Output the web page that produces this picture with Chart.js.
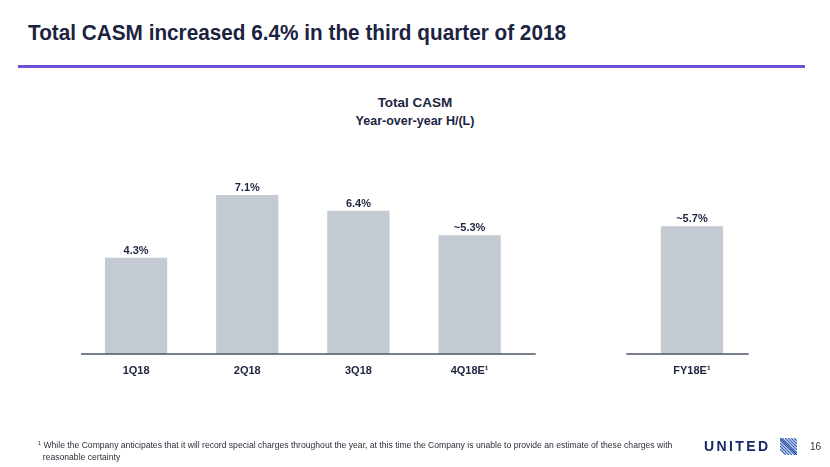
<!DOCTYPE html>
<html><head><meta charset="utf-8">
<script src="https://cdn.jsdelivr.net/npm/chart.js@4.4.1/dist/chart.umd.min.js"></script>
<style>
html,body{margin:0;padding:0;background:#fff;}
#wrap{position:relative;width:830px;height:467px;overflow:hidden;font-family:"Liberation Sans",Arial,sans-serif;color:#1d2541;}
#title{position:absolute;left:28px;top:21px;font-weight:bold;font-size:21.5px;white-space:nowrap;color:#1b2340;transform:scaleX(0.965);transform-origin:left top;}
#rule{position:absolute;left:18px;top:65px;width:787px;height:3px;background:#6d50d6;}
#ctitle{position:absolute;left:0;width:830px;text-align:center;top:95px;font-weight:bold;font-size:13.5px;line-height:16px;}
#csub{position:absolute;left:0;width:830px;text-align:center;top:113px;font-weight:bold;font-size:12.5px;line-height:16px;}
#c{position:absolute;left:0;top:0;}
#foot{position:absolute;left:38px;top:439px;font-size:9.5px;line-height:12px;color:#2b2f3a;white-space:nowrap;transform:scaleX(0.905);transform-origin:left top;}
#foot sup{font-size:6px;vertical-align:top;line-height:8px;}
#logo{position:absolute;left:704px;top:438px;font-weight:bold;font-size:14px;letter-spacing:2.4px;color:#16286b;line-height:16px;}
#globe{position:absolute;left:780px;top:438px;}
#page{position:absolute;left:810px;top:441px;font-size:10px;color:#333;}
</style></head>
<body>
<div id="wrap">
<div id="title">Total CASM increased 6.4% in the third quarter of 2018</div>
<div id="rule"></div>
<div id="ctitle">Total CASM</div>
<div id="csub">Year-over-year H/(L)</div>
<canvas id="c" width="830" height="467"></canvas>
<div id="foot"><sup>1</sup> While the Company anticipates that it will record special charges throughout the year, at this time the Company is unable to provide an estimate of these charges with<br>&nbsp;&nbsp;reasonable certainty</div>
<div id="logo">UNITED</div>
<svg id="globe" width="17" height="17" viewBox="0 0 17 17">
<rect x="0" y="0" width="17" height="17" fill="#ffffff"/>
<path d="M0 2 L15 17 M0 5 L12 17 M0 8 L9 17 M0 11 L6 17 M2 0 L17 15 M5 0 L17 12 M8 0 L17 9 M11 0 L17 6 M14 0 L17 3" stroke="#3d68b8" stroke-width="1.3"/>
<path d="M0 0 L17 17" stroke="#2b4f9e" stroke-width="1.3"/>
</svg>
<div id="page">16</div>
</div>
<script>
const categories = ['1Q18', '2Q18', '3Q18', '4Q18E\u00B9', '', 'FY18E\u00B9'];
const values = [4.3, 7.1, 6.4, 5.3, null, 5.7];
const valueLabels = ['4.3%', '7.1%', '6.4%', '~5.3%', '', '~5.7%'];

const textColor = '#1d2541';

const valueLabelPlugin = {
  id: 'valueLabels',
  afterDatasetsDraw(chart) {
    const ctx = chart.ctx;
    const meta = chart.getDatasetMeta(0);
    ctx.save();
    ctx.font = 'bold 11px "Liberation Sans", Arial, sans-serif';
    ctx.fillStyle = textColor;
    ctx.textAlign = 'center';
    ctx.textBaseline = 'alphabetic';
    meta.data.forEach((bar, i) => {
      if (values[i] == null) return;
      ctx.fillText(valueLabels[i], bar.x, bar.y - 4);
    });
    ctx.restore();
  }
};

const baselinePlugin = {
  id: 'baselines',
  afterDatasetsDraw(chart, args, opts) {
    const ctx = chart.ctx;
    const xs = chart.scales.x, ys = chart.scales.y;
    const step = xs.getPixelForValue(1) - xs.getPixelForValue(0);
    const y = ys.getPixelForValue(0);
    ctx.save();
    ctx.strokeStyle = opts.color;
    ctx.lineWidth = opts.width;
    opts.segments.forEach(([a, b]) => {
      ctx.beginPath();
      ctx.moveTo(xs.getPixelForValue(0) + a * step, y);
      ctx.lineTo(xs.getPixelForValue(0) + b * step, y);
      ctx.stroke();
    });
    ctx.restore();
  }
};

new Chart(document.getElementById('c'), {
  type: 'bar',
  data: {
    labels: categories,
    datasets: [{
      data: values,
      backgroundColor: '#c4cad2',
      borderWidth: 0,
      barPercentage: 0.56,
      categoryPercentage: 1
    }]
  },
  options: {
    responsive: false,
    animation: false,
    layout: { padding: { left: 80.5, right: 82.5, top: 174.8, bottom: 0 } },
    plugins: {
      legend: { display: false },
      tooltip: { enabled: false },
      baselines: { color: '#4b5567', width: 1.5, segments: [[-0.495, 3.595], [4.41, 5.51]] }
    },
    scales: {
      y: { display: false, min: 0, max: 8 },
      x: {
        grid: { display: false, drawTicks: false },
        border: { display: false },
        ticks: { color: textColor, padding: 10, font: { family: '"Liberation Sans", Arial, sans-serif', weight: 'bold', size: 11 } },
        afterFit(s) { s.height = 113; }
      }
    }
  },
  plugins: [valueLabelPlugin, baselinePlugin]
});
</script>
</body></html>
